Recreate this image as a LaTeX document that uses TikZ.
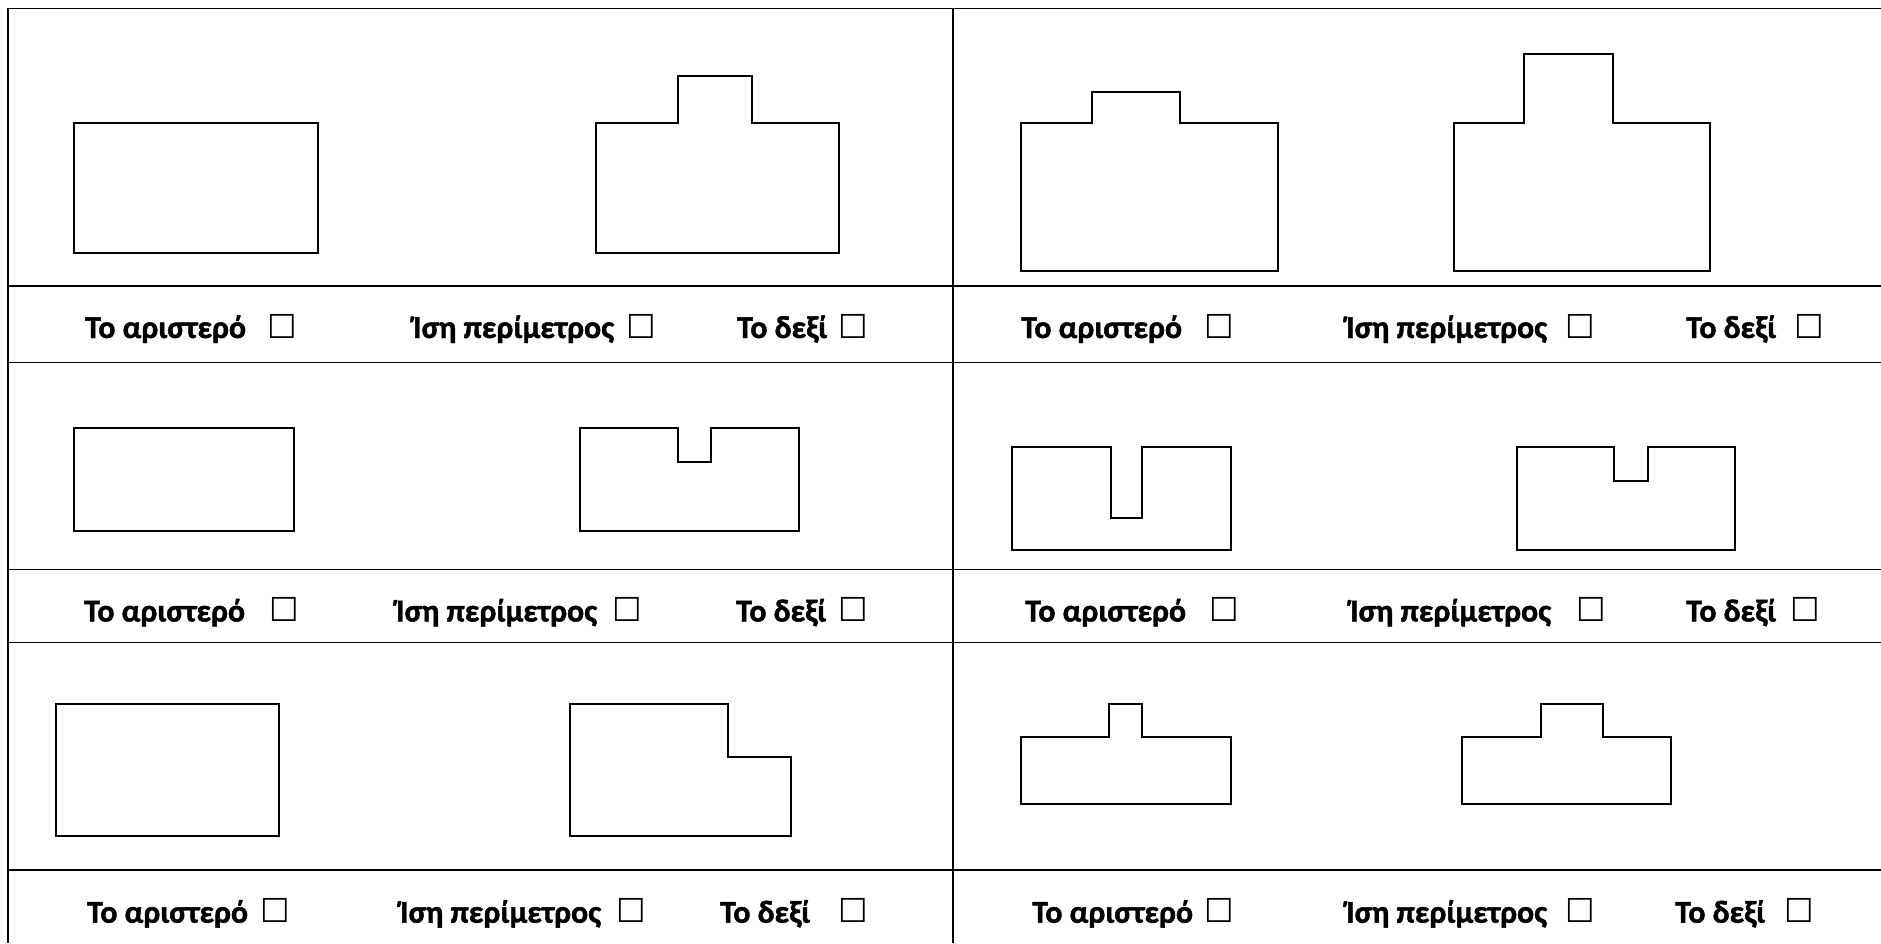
\documentclass[tikz,border=0pt]{standalone}
\usepackage{fontspec}
\setmainfont{Carlito}[BoldFeatures={FakeBold=1.5}]
\newfontfamily\boxfont{DejaVu Sans}
\begin{document}
\begin{tikzpicture}[x=1bp,y=-1bp,
  gridline/.style={line width=1.3bp,black},
  fig/.style={line width=2bp,black,line join=miter},
  lbl/.style={anchor=base west,inner sep=0pt,font=\fontsize{31.8bp}{36bp}\selectfont\bfseries},
  chk/.style={anchor=base west,inner sep=0pt,xshift=-2bp,font=\fontsize{33bp}{38bp}\selectfont\boxfont}]
\useasboundingbox (0,0) rectangle (1881,943);
% table grid
\draw[gridline] (8,8.3) -- (1881,8.3);
\draw[gridline] (8,8.3) -- (8,943);
\draw[gridline] (953,8.3) -- (953,943);
\foreach \yy in {286,362.5,569.5,642.3,870} \draw[gridline] (8,\yy) -- (1881,\yy);
% panel 1
\draw[fig] (74,123) rectangle (318,253);
\draw[fig] (596,123) -- (678,123) -- (678,76) -- (752,76) -- (752,123) -- (839,123) -- (839,253) -- (596,253) -- cycle;
% panel 2
\draw[fig] (1021,123) -- (1092,123) -- (1092,91.5) -- (1180,91.5) -- (1180,123) -- (1278,123) -- (1278,270.5) -- (1021,270.5) -- cycle;
\draw[fig] (1454,123) -- (1524,123) -- (1524,54) -- (1613,54) -- (1613,123) -- (1710,123) -- (1710,270.5) -- (1454,270.5) -- cycle;
% panel 3
\draw[fig] (74,427.5) rectangle (293.5,531);
\draw[fig] (580,427.5) -- (678,427.5) -- (678,461.5) -- (710.5,461.5) -- (710.5,427.5) -- (799,427.5) -- (799,531) -- (580,531) -- cycle;
% panel 4
\draw[fig] (1011.5,446.5) -- (1110.5,446.5) -- (1110.5,518) -- (1142,518) -- (1142,446.5) -- (1230.5,446.5) -- (1230.5,550) -- (1011.5,550) -- cycle;
\draw[fig] (1517,446.5) -- (1614,446.5) -- (1614,480.5) -- (1647.5,480.5) -- (1647.5,446.5) -- (1735,446.5) -- (1735,549.5) -- (1517,549.5) -- cycle;
% panel 5
\draw[fig] (56,703.7) rectangle (278.5,836.3);
\draw[fig] (569.5,703.7) -- (728,703.7) -- (728,756.7) -- (790.5,756.7) -- (790.5,836.3) -- (569.5,836.3) -- cycle;
% panel 6
\draw[fig] (1020.5,737) -- (1108.5,737) -- (1108.5,703.5) -- (1141.5,703.5) -- (1141.5,737) -- (1230.5,737) -- (1230.5,803.5) -- (1020.5,803.5) -- cycle;
\draw[fig] (1461.5,737) -- (1541,737) -- (1541,703.5) -- (1603,703.5) -- (1603,737) -- (1670.5,737) -- (1670.5,803.7) -- (1461.5,803.7) -- cycle;
% labels row 1
\node[lbl] (l1a) at (85,338) {Το αριστερό};
\node[chk] (c1a) at (269,338) {☐};
\node[lbl] (l1b) at (413,338) {Ίση περίμετρος};
\node[chk] (c1b) at (628,338) {☐};
\node[lbl] (l1c) at (737,338) {Το δεξί};
\node[chk] (c1c) at (840,338) {☐};
\node[lbl] (l2a) at (1021,338) {Το αριστερό};
\node[chk] (c2a) at (1206,338) {☐};
\node[lbl] (l2b) at (1346,338) {Ίση περίμετρος};
\node[chk] (c2b) at (1567,338) {☐};
\node[lbl] (l2c) at (1686,338) {Το δεξί};
\node[chk] (c2c) at (1796,338) {☐};
% labels row 2
\node[lbl] (l3a) at (84,621.5) {Το αριστερό};
\node[chk] (c3a) at (271,621.5) {☐};
\node[lbl] (l3b) at (396,621.5) {Ίση περίμετρος};
\node[chk] (c3b) at (614,621.5) {☐};
\node[lbl] (l3c) at (736,621.5) {Το δεξί};
\node[chk] (c3c) at (840,621.5) {☐};
\node[lbl] (l4a) at (1025,621.5) {Το αριστερό};
\node[chk] (c4a) at (1211,621.5) {☐};
\node[lbl] (l4b) at (1350,621.5) {Ίση περίμετρος};
\node[chk] (c4b) at (1578,621.5) {☐};
\node[lbl] (l4c) at (1686,621.5) {Το δεξί};
\node[chk] (c4c) at (1792,621.5) {☐};
% labels row 3
\node[lbl] (l5a) at (87,922.7) {Το αριστερό};
\node[chk] (c5a) at (262,922.7) {☐};
\node[lbl] (l5b) at (400,922.7) {Ίση περίμετρος};
\node[chk] (c5b) at (618,922.7) {☐};
\node[lbl] (l5c) at (720,922.7) {Το δεξί};
\node[chk] (c5c) at (840,922.7) {☐};
\node[lbl] (l6a) at (1032,922.7) {Το αριστερό};
\node[chk] (c6a) at (1206,922.7) {☐};
\node[lbl] (l6b) at (1346,922.7) {Ίση περίμετρος};
\node[chk] (c6b) at (1567,922.7) {☐};
\node[lbl] (l6c) at (1675,922.7) {Το δεξί};
\node[chk] (c6c) at (1786,922.7) {☐};
\end{tikzpicture}
\end{document}
